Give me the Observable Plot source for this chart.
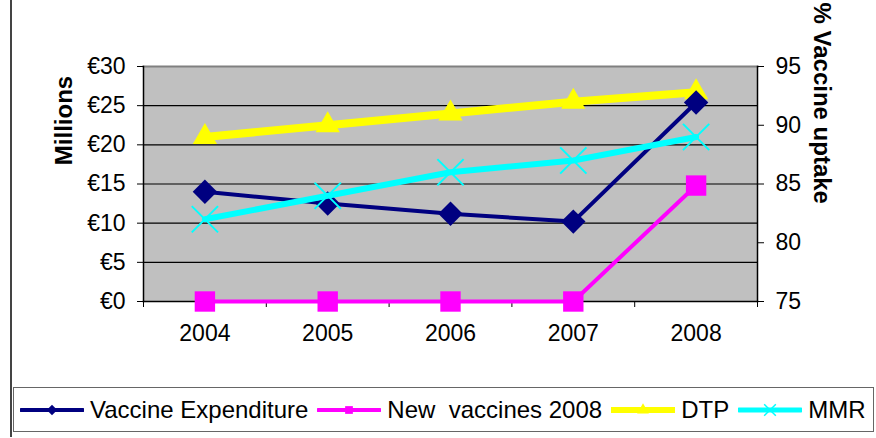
<!DOCTYPE html>
<html>
<head>
<meta charset="utf-8">
<script src="https://cdn.jsdelivr.net/npm/d3@7"></script>
<script src="https://cdn.jsdelivr.net/npm/@observablehq/plot@0.6"></script>
<style>
  html, body { margin: 0; padding: 0; background: #fff; }
  #wrap { position: relative; width: 876px; height: 438px; overflow: hidden; font-family: "Liberation Sans", Arial, sans-serif; }
  #border { position: absolute; left: 10px; top: 0; width: 2px; height: 437px; background: #444; }
  #legend { position: absolute; left: 13px; top: 387px; width: 859px; height: 43px; border: 1px solid #666; display: flex; align-items: center; font-size: 24px; color: #000; box-sizing: content-box; }
  .item { display: flex; align-items: center; margin-right: 9px; white-space: pre; }
  .item svg { margin-right: 6px; }
</style>
</head>
<body>
<div id="wrap"><div id="border"></div><div id="legend"></div></div>
<script>
const years = ["2004", "2005", "2006", "2007", "2008"];
const vaccineExpenditure = [14.0, 12.5, 11.2, 10.2, 25.4];   // € millions (left axis)
const newVaccines2008 = [0, 0, 0, 0, 14.8];                 // € millions (left axis)
const dtp = [89, 90, 91, 92, 92.8];                         // % uptake (right axis)
const mmr = [82, 84, 86, 87, 89];                           // % uptake (right axis)
const leftTicks = [0, 5, 10, 15, 20, 25, 30];
const rightTicks = [75, 80, 85, 90, 95];
const seriesNames = ["Vaccine Expenditure", "New  vaccines 2008", "DTP", "MMR"];
const seriesColors = ["#000080", "#FF00FF", "#FFFF00", "#00FFFF"];

const rightMin = 75, rightMax = 95, leftMax = 30;
const toLeft = v => (v - rightMin) / (rightMax - rightMin) * leftMax;

const rows = (vals, name, map = v => v) => vals.map((v, i) => ({i, y: map(v), name}));
const expRows = rows(vaccineExpenditure, seriesNames[0]);
const newRows = rows(newVaccines2008, seriesNames[1]);
const dtpRows = rows(dtp, seriesNames[2], toLeft);
const mmrRows = rows(mmr, seriesNames[3], toLeft);

const font = "Liberation Sans, Arial, sans-serif";

const chart = Plot.plot({
  width: 876,
  height: 438,
  marginLeft: 143,
  marginRight: 119,
  marginTop: 66,
  marginBottom: 137,
  x: {domain: [-0.5, years.length - 0.5]},
  y: {domain: [0, leftMax]},
  style: {fontFamily: font, fontSize: "23px", background: "transparent", color: "#000", overflow: "visible"},
  marks: [
    Plot.frame({fill: "#C0C0C0", stroke: null}),
    Plot.gridY(leftTicks, {stroke: "#000", strokeOpacity: 1, strokeWidth: 1.2}),
    Plot.frame({anchor: "top", stroke: "#808080", strokeWidth: 2}),
    Plot.frame({anchor: "left", stroke: "#000", strokeWidth: 1.5}),
    Plot.frame({anchor: "right", stroke: "#000", strokeWidth: 1.5}),
    Plot.frame({anchor: "bottom", stroke: "#000", strokeWidth: 1.5}),
    Plot.axisY(leftTicks, {anchor: "left", tickSize: 6, tickPadding: 12, tickFormat: d => "€" + d, label: null, fontSize: 23}),
    Plot.axisY(rightTicks.map(toLeft), {anchor: "right", tickSize: 6, tickPadding: 12, tickFormat: d => String(Math.round(d / leftMax * (rightMax - rightMin) + rightMin)), label: null, fontSize: 23}),
    Plot.axisX(d3.range(-0.5, years.length, 1), {anchor: "bottom", tickSize: 6, tickFormat: () => "", label: null}),
    Plot.axisX(d3.range(years.length), {anchor: "bottom", tickSize: 0, tickPadding: 23, tickFormat: i => years[i], label: null, fontSize: 23}),
    Plot.text(["Millions"], {frameAnchor: "top-left", dx: -89, dy: 54, rotate: -90, fontWeight: "bold", fontSize: 24, textAnchor: "middle"}),
    Plot.text(["% Vaccine uptake"], {frameAnchor: "top-right", dx: 74, dy: -64, rotate: 90, fontWeight: "bold", fontSize: 24, textAnchor: "start"}),
    // DTP
    Plot.line(dtpRows, {x: "i", y: "y", stroke: seriesColors[2], strokeWidth: 8}),
    Plot.dot(dtpRows, {x: "i", y: "y", symbol: "triangle", fill: seriesColors[2], r: 9, stroke: null}),
    // Vaccine expenditure
    Plot.line(expRows, {x: "i", y: "y", stroke: seriesColors[0], strokeWidth: 4}),
    Plot.dot(expRows, {x: "i", y: "y", symbol: "diamond2", fill: seriesColors[0], r: 11, stroke: null}),
    // New vaccines
    Plot.line(newRows, {x: "i", y: "y", stroke: seriesColors[1], strokeWidth: 4}),
    Plot.dot(newRows, {x: "i", y: "y", symbol: "square", fill: seriesColors[1], r: 11.5, stroke: null}),
    // MMR
    Plot.line(mmrRows, {x: "i", y: "y", stroke: seriesColors[3], strokeWidth: 6}),
    Plot.dot(mmrRows, {x: "i", y: "y", symbol: "times", stroke: seriesColors[3], strokeWidth: 2, r: 12})
  ]
});
document.getElementById("wrap").prepend(chart);
chart.style.position = "absolute";
chart.style.left = "0px";
chart.style.top = "0px";

// Legend
const legendSymbols = [d3.symbolDiamond2, d3.symbolSquare, d3.symbolTriangle, d3.symbolTimes];
const legendSizes = [70, 60, 60, 90];
const legendWidths = [4, 4, 6, 5];
const legend = d3.select("#legend");
seriesNames.forEach((name, k) => {
  const item = legend.append("div").attr("class", "item");
  if (k === 0) item.style("margin-left", "6px");
  const svg = item.append("svg").attr("width", 64).attr("height", 24);
  svg.append("line").attr("x1", 1).attr("x2", 63).attr("y1", 12).attr("y2", 12)
    .attr("stroke", seriesColors[k]).attr("stroke-width", legendWidths[k]).attr("stroke-linecap", "round");
  const sym = svg.append("path").attr("transform", "translate(32,12)")
    .attr("d", d3.symbol(legendSymbols[k], legendSizes[k])());
  if (k === 3) sym.attr("fill", "none").attr("stroke", seriesColors[k]).attr("stroke-width", 1.5);
  else sym.attr("fill", seriesColors[k]);
  item.append("span").text(name);
});
</script>
</body>
</html>
